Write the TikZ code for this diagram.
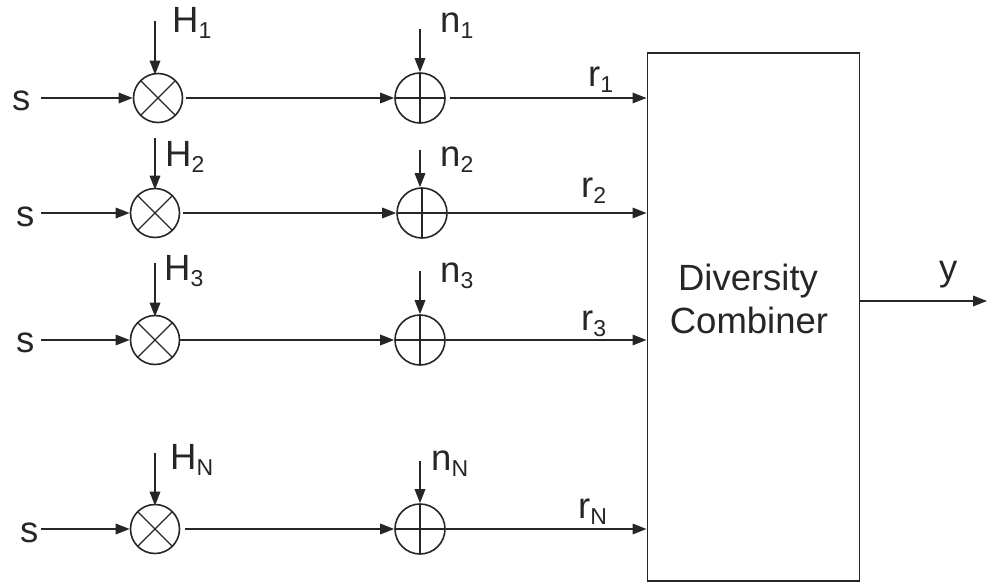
\documentclass[tikz,border=0pt]{standalone}
\usepackage{fontspec}
\setmainfont{Liberation Sans}
\usetikzlibrary{arrows.meta}
\newcommand{\lbl}[2]{#1\raisebox{-6pt}{\fontsize{23}{23}\selectfont #2}}
\tikzset{
  x=1pt,y=-1pt,
  wire/.style={line width=1.7pt,draw=black!85},
  arrowwire/.style={wire,-{Triangle[length=14pt,width=10.5pt]}},
  mult/.style={circle,draw=black!85,line width=1.6pt,minimum size=49pt,inner sep=0pt,
    path picture={\draw[line width=1.2pt,black!85]
      ([shift={(-17.3pt,-17.3pt)}]path picture bounding box.center) -- ([shift={(17.3pt,17.3pt)}]path picture bounding box.center)
      ([shift={(-17.3pt,17.3pt)}]path picture bounding box.center) -- ([shift={(17.3pt,-17.3pt)}]path picture bounding box.center);}},
  adder/.style={circle,draw=black!85,line width=1.6pt,minimum size=50pt,inner sep=0pt,
    path picture={\draw[line width=1.2pt,black!85]
      (path picture bounding box.north) -- (path picture bounding box.south)
      (path picture bounding box.west) -- (path picture bounding box.east);}},
  txt/.style={anchor=base west,inner sep=0pt,text=black!85,font=\fontsize{36.5}{36.5}\selectfont},
  blockbox/.style={draw=black!85,line width=1.7pt,minimum width=212pt,minimum height=528pt,inner sep=0pt,anchor=north west},
}
\begin{document}
\begin{tikzpicture}
\useasboundingbox (0,0) rectangle (990,583);
\node[blockbox] (box) at (646.5,52) {};
\node[txt,anchor=base,align=center] (dc1) at (748,290) {Diversity};
\node[txt,anchor=base] (dc2) at (749,333) {Combiner};
% circles
\node[mult] (m1) at (158,98) {};
\node[mult] (m2) at (155,213) {};
\node[mult] (m3) at (155,340) {};
\node[mult] (m4) at (155,529) {};
\node[adder] (a1) at (420,98) {};
\node[adder] (a2) at (422,213) {};
\node[adder] (a3) at (420,340) {};
\node[adder] (a4) at (420,529) {};
% source labels
\node[txt] (s1) at (12,111) {s};
\node[txt] (s2) at (16,226) {s};
\node[txt] (s3) at (16,352) {s};
\node[txt] (s4) at (20,542) {s};
% upper labels
\node[txt] (h1) at (172,33) {\lbl{H}{1}};
\node[txt] (h2) at (165,166) {\lbl{H}{2}};
\node[txt] (h3) at (164,280) {\lbl{H}{3}};
\node[txt] (h4) at (170,469) {\lbl{H}{N}};
\node[txt] (n1) at (440,33) {\lbl{n}{1}};
\node[txt] (n2) at (440,166) {\lbl{n}{2}};
\node[txt] (n3) at (440,282) {\lbl{n}{3}};
\node[txt] (n4) at (431,470) {\lbl{n}{N}};
\node[txt] (r1) at (588,87) {\lbl{r}{1}};
\node[txt] (r2) at (581,197) {\lbl{r}{2}};
\node[txt] (r3) at (581,330) {\lbl{r}{3}};
\node[txt] (r4) at (578,518) {\lbl{r}{N}};
\node[txt] (y) at (939,280) {y};
% free ends
\coordinate (ch1) at (155,21); \coordinate (ch2) at (155,138);
\coordinate (ch3) at (155,263); \coordinate (ch4) at (155,453);
\coordinate (cn1) at (420,29); \coordinate (cn2) at (420,150);
\coordinate (cn3) at (420,271); \coordinate (cn4) at (420,461);
\coordinate (cs1) at (41,98); \coordinate (cs2) at (41,213);
\coordinate (cs3) at (41,340); \coordinate (cs4) at (41,529);
\coordinate (yout) at (859,301);
\coordinate (yend) at (987,301);
% connectors
\foreach \i/\g/\o in {1/3/4,2/3/0,3/0/0,4/5/0} {
  \draw[arrowwire] (cs\i) -- (m\i.west);
  \draw[arrowwire] (ch\i) -- ([yshift=-2pt]ch\i |- m\i.north);
  \draw[arrowwire] (cn\i) -- (cn\i |- a\i.north);
  \draw[arrowwire] ([xshift=\g pt]m\i.east) -- (a\i.west);
  \draw[arrowwire] ([xshift=\o pt]a\i.east) -- (box.west |- a\i.east);
}
\draw[arrowwire] (yout) -- (yend);
\end{tikzpicture}
\end{document}
